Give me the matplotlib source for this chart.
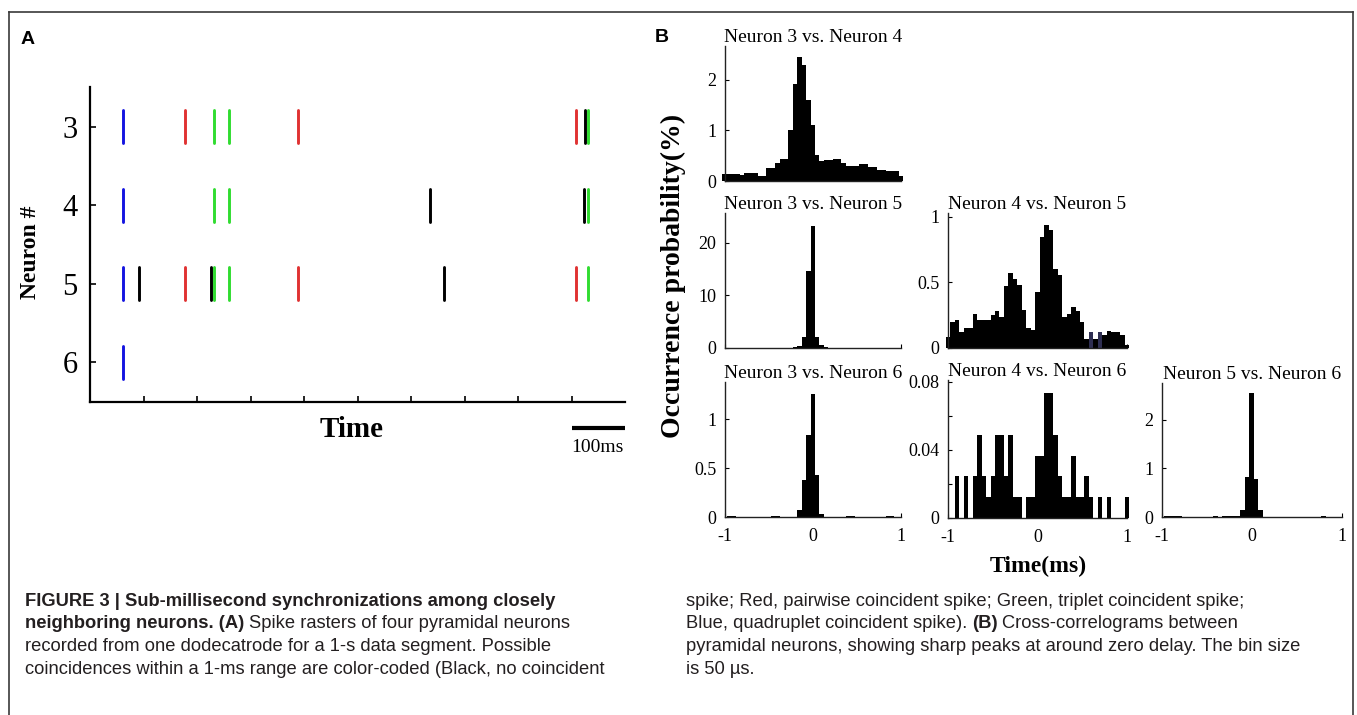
import numpy as np
import matplotlib.pyplot as plt
from matplotlib import font_manager
from matplotlib.lines import Line2D
from matplotlib.transforms import Bbox, TransformedBbox, blended_transform_factory

plt.rcParams['axes.unicode_minus'] = False

# ----------------------------------------------------
# Panel A data: spike times (ms) and coincidence class
# ----------------------------------------------------
neuron_ids = [3, 4, 5, 6]
n3_times = [62, 177, 232, 259, 388, 908, 926, 930]
n3_kinds = ['blue', 'red', 'green', 'green', 'red', 'red', 'black', 'green']
n4_times = [62, 232, 259, 636, 923, 931]
n4_kinds = ['blue', 'green', 'green', 'black', 'black', 'green']
n5_times = [62, 92, 177, 226, 232, 259, 388, 662, 908, 931]
n5_kinds = ['blue', 'black', 'red', 'black', 'green', 'green', 'red', 'black', 'red', 'green']
n6_times = [62]
n6_kinds = ['blue']
raster_ticks = [100, 200, 300, 400, 500, 600, 700, 800, 900]

# ----------------------------------------------------
# Panel B data: cross-correlograms, bin centres -1..1 ms step 50 us
# ----------------------------------------------------
lags = np.round(np.arange(-1.0, 1.0001, 0.05), 3)

cc_3_4 = [0.14, 0.14, 0.14, 0.14, 0.12, 0.16, 0.16, 0.16, 0.10, 0.10,
          0.25, 0.25, 0.35, 0.43, 0.43, 1.00, 1.92, 2.45, 2.30, 1.60,
          1.10, 0.51, 0.40, 0.42, 0.42, 0.44, 0.44, 0.35, 0.30, 0.30,
          0.30, 0.33, 0.33, 0.28, 0.28, 0.22, 0.22, 0.20, 0.20, 0.19, 0.09]
cc_3_5 = [0, 0, 0, 0, 0, 0, 0, 0, 0, 0,
          0, 0, 0, 0, 0, 0, 0.1, 0.4, 2.0, 14.7,
          23.3, 2.0, 0.5, 0.1, 0, 0, 0, 0, 0, 0,
          0, 0, 0, 0, 0, 0, 0, 0, 0, 0, 0]
cc_4_5 = [0.085, 0.20, 0.21, 0.12, 0.15, 0.15, 0.26, 0.21, 0.21, 0.21,
          0.25, 0.28, 0.24, 0.47, 0.57, 0.53, 0.48, 0.29, 0.15, 0.14,
          0.43, 0.85, 0.94, 0.90, 0.60, 0.56, 0.24, 0.26, 0.31, 0.28,
          0.20, 0.07, 0.12, 0.07, 0.12, 0.10, 0.13, 0.12, 0.12, 0.10, 0.02]
cc_3_6 = [0, 0.01, 0.01, 0, 0, 0, 0, 0, 0, 0,
          0, 0.01, 0.01, 0, 0, 0, 0, 0.07, 0.38, 0.84,
          1.26, 0.43, 0.03, 0, 0, 0, 0, 0, 0.01, 0.01,
          0, 0, 0, 0, 0, 0, 0, 0.01, 0.01, 0, 0]
cc_4_6 = [0, 0, 0.0244, 0, 0.0244, 0, 0.0244, 0.0488, 0.0244, 0.0122,
          0.0244, 0.0488, 0.0488, 0.0244, 0.0488, 0.0122, 0.0122, 0, 0.0122, 0.0122,
          0.0366, 0.0366, 0.0732, 0.0732, 0.0488, 0.0244, 0.0122, 0.0122, 0.0366, 0.0122,
          0.0122, 0.0244, 0.0122, 0, 0.0122, 0, 0.0122, 0, 0, 0, 0.0122]
cc_5_6 = [0, 0.02, 0.02, 0.02, 0.02, 0, 0, 0, 0, 0,
          0, 0, 0.02, 0, 0.02, 0.02, 0.02, 0.02, 0.15, 0.83,
          2.55, 0.78, 0.15, 0, 0, 0, 0, 0, 0, 0,
          0, 0, 0, 0, 0, 0, 0.03, 0, 0, 0.01, 0]

pair_titles = ['Neuron 3 vs. Neuron 4', 'Neuron 3 vs. Neuron 5', 'Neuron 4 vs. Neuron 5',
               'Neuron 3 vs. Neuron 6', 'Neuron 4 vs. Neuron 6', 'Neuron 5 vs. Neuron 6']
pair_values = [cc_3_4, cc_3_5, cc_4_5, cc_3_6, cc_4_6, cc_5_6]
pair_ymax = [2.67, 25.7, 1.03, 1.38, 0.081, 2.75]
pair_yticks = [[0, 1, 2], [0, 10, 20], [0, 0.5, 1], [0, 0.5, 1], [0, 0.04, 0.08], [0, 1, 2]]
tinted_bins = [32, 34]   # two slightly bluish bins in Neuron 4 vs. Neuron 5

# ----------------------------------------------------
# Figure setup (pixel helpers)
# ----------------------------------------------------
W, H = 1357, 715
fig = plt.figure(figsize=(W / 100, H / 100), dpi=100)
SERIF = 'Liberation Serif'
SANS = 'Liberation Sans'
INK = '#231f20'


def px_axes(left, right, bottom, top):
    return fig.add_axes([left / W, 1 - bottom / H, (right - left) / W, (bottom - top) / H])


def ftext(x, y, s, **kw):
    return fig.text(x / W, 1 - y / H, s, **kw)


# frame around figure + caption
for xs, ys in [([8.5, 1353], [12, 12]), ([8.5, 8.5], [12, 716]), ([1353, 1353], [12, 716])]:
    fig.add_artist(Line2D([x / W for x in xs], [1 - y / H for y in ys],
                          transform=fig.transFigure, color='#3a3a3a', lw=1.2))

# ----------------------------------------------------
# Panel A: raster
# ----------------------------------------------------
kind_colors = {'blue': '#1414e0', 'red': '#e03232', 'green': '#30dc30', 'black': '#000000'}

axA = px_axes(90, 625, 401.7, 87.3)
for nid, times, kinds in zip(neuron_ids,
                             [n3_times, n4_times, n5_times, n6_times],
                             [n3_kinds, n4_kinds, n5_kinds, n6_kinds]):
    axA.vlines(times, nid - 0.21, nid + 0.21,
               colors=[kind_colors[k] for k in kinds], linewidth=2.1,
               capstyle='round')

axA.set_xlim(0, 1000)
axA.set_ylim(6.5, 2.5)
axA.set_yticks(neuron_ids)
axA.set_yticklabels([str(n) for n in neuron_ids], fontsize=22, family=SERIF)
axA.set_xticks(raster_ticks)
axA.set_xticklabels([])
for side in ['top', 'right']:
    axA.spines[side].set_visible(False)
for side in ['left', 'bottom']:
    axA.spines[side].set_linewidth(1.6)
axA.tick_params(direction='in', length=4, width=1.2, pad=9)

# 100 ms scale bar below the raster
bar_tf = blended_transform_factory(axA.transData, axA.transAxes)
axA.plot([900, 1000], [-0.084, -0.084], transform=bar_tf, clip_on=False,
         color='black', lw=3, solid_capstyle='butt')
ftext(597, 447, '100ms', ha='center', va='center', fontsize=14, family=SERIF)

ftext(352, 430, 'Time', ha='center', va='center', fontsize=21,
      fontweight='bold', family=SERIF)
ftext(31, 252, 'Neuron #', ha='center', va='center', rotation=90,
      fontsize=17, fontweight='bold', family=SERIF)
ftext(28, 40, 'A', ha='center', va='center', fontsize=14, fontweight='bold', family=SANS)

# ----------------------------------------------------
# Panel B: cross-correlograms
# ----------------------------------------------------
geometry = [(724.5, 901, 181, 46), (724.5, 901, 348, 213), (948, 1127, 348, 213),
            (724.5, 901, 517, 382), (948, 1127, 518, 380), (1161.7, 1341.7, 517, 383.3)]

edges = np.append(lags - 0.025, lags[-1] + 0.025)
b_axes = []
for i, (title, vals) in enumerate(zip(pair_titles, pair_values)):
    ax = px_axes(*geometry[i])
    ax.stairs(vals, edges, fill=True, color='black', clip_on=False)
    if i == 2:
        ax.bar(lags[tinted_bins], np.array(vals)[tinted_bins], width=0.05,
               color='#2e2e52', linewidth=0, clip_on=False)
    ax.set_xlim(-1, 1)
    ax.set_ylim(0, pair_ymax[i])
    ax.set_yticks(pair_yticks[i])
    ax.set_yticklabels([f'{v:g}' for v in pair_yticks[i]], fontsize=13, family=SERIF)
    ax.set_xticks([-1, 0, 1])
    if i >= 3:
        ax.set_xticklabels(['-1', '0', '1'], fontsize=13, family=SERIF)
    else:
        ax.set_xticklabels([])
    for side in ['top', 'right']:
        ax.spines[side].set_visible(False)
    for side in ['left', 'bottom']:
        ax.spines[side].set_linewidth(1.0)
        ax.spines[side].set_color('#222222')
    ax.tick_params(direction='in', length=3, width=0.8, pad=6)
    ax.tick_params(axis='x', pad=8)
    t = ax.set_title(title, fontsize=14, family=SERIF, pad=3)
    b_axes.append((ax, t))

b_axes[4][0].set_yticks([0.02, 0.06], minor=True)
b_axes[4][0].tick_params(which='minor', direction='in', length=3, width=0.8)

# last title is cut at the figure edge in the original
last_title = b_axes[5][1]
last_title.set_clip_box(TransformedBbox(Bbox([[0, 0], [1344 / W, 1]]), fig.transFigure))
last_title.set_clip_on(True)

ftext(673, 276, 'Occurrence probability(%)', ha='center', va='center', rotation=90,
      fontsize=20, fontweight='bold', family=SERIF)
ftext(1038, 566, 'Time(ms)', ha='center', va='center', fontsize=17,
      fontweight='bold', family=SERIF)
ftext(662, 38, 'B', ha='center', va='center', fontsize=14, fontweight='bold', family=SANS)

# ----------------------------------------------------
# Caption
# ----------------------------------------------------
font_names = {f.name for f in font_manager.fontManager.ttflist}
if 'Liberation Sans Narrow' in font_names:
    cap_family, cap_size = 'Liberation Sans Narrow', 16
else:
    cap_family, cap_size = 'Liberation Sans', 13.2

caption_left = [
    [('FIGURE 3 | Sub-millisecond synchronizations among closely', True)],
    [('neighboring neurons. (A)', True), ('Spike rasters of four pyramidal neurons', False)],
    [('recorded from one dodecatrode for a 1-s data segment. Possible', False)],
    [('coincidences within a 1-ms range are color-coded (Black, no coincident', False)],
]
caption_right = [
    [('spike; Red, pairwise coincident spike; Green, triplet coincident spike;', False)],
    [('Blue, quadruplet coincident spike).', False), ('(B)', True),
     ('Cross-correlograms between', False)],
    [('pyramidal neurons, showing sharp peaks at around zero delay. The bin size', False)],
    [('is 50 \u00b5s.', False)],
]
baselines = [606, 628.5, 651, 673.5]

renderer = fig.canvas.get_renderer()
space_px = cap_size * 100 / 72 * 0.25
for x_start, block in [(25, caption_left), (686, caption_right)]:
    for y, line in zip(baselines, block):
        x = x_start
        for seg, bold in line:
            t = ftext(x, y, seg, ha='left', va='baseline', fontsize=cap_size,
                      family=cap_family, color=INK,
                      fontweight='bold' if bold else 'normal')
            bb = t.get_window_extent(renderer)
            x = bb.x1 + space_px

fig.savefig('out.png', dpi=100)
